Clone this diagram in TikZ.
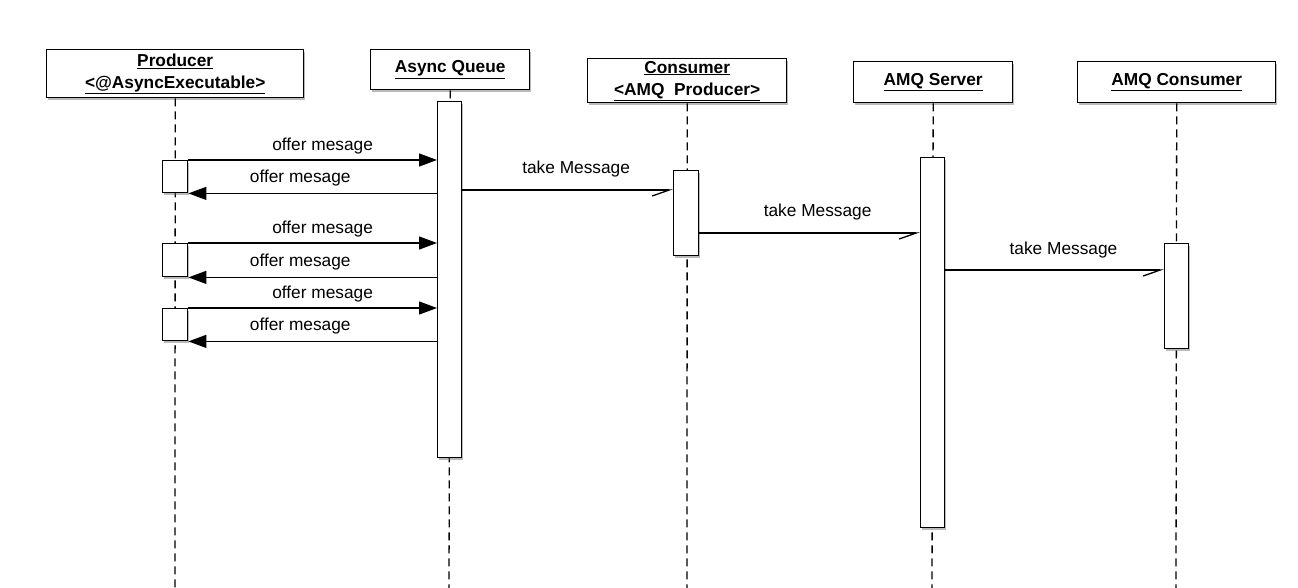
\documentclass[tikz,border=0pt]{standalone}
\usepackage{fontspec}
\setmainfont{Liberation Sans}
\usetikzlibrary{arrows.meta,shadows}
\begin{document}
\begin{tikzpicture}[x=1pt,y=-1pt,
  every node/.style={font=\fontsize{17.3}{22}\selectfont},
  shad/.style={drop shadow={shadow xshift=1.5pt,shadow yshift=-2pt,fill=black!60,opacity=0.45}},
  head/.style={draw,line width=1.4pt,fill=white,shad,anchor=north west,inner sep=0pt,align=center,font=\fontsize{17.3}{22}\selectfont\bfseries},
  act/.style={draw,line width=1.4pt,fill=white,shad,anchor=north west,inner sep=0pt},
  life/.style={line width=1.3pt,dash pattern=on 8pt off 5pt},
  sync/.style={line width=1.3pt,-{Triangle[length=18pt,width=13pt]}},
  async/.style={line width=1.3pt,-{Straight Barb[length=17pt,width=12pt,harpoon,swap]}},
  lbl/.style={inner sep=0pt,anchor=center}]
\useasboundingbox (0,0) rectangle (1298,588);
% lifeline bottoms
\coordinate (pe) at (175,588);
\coordinate (qe) at (449,588);
\coordinate (ce) at (687,588);
\coordinate (se) at (932,588);
\coordinate (ae) at (1176,588);
% headers
\node[head,minimum width=257pt,minimum height=48pt] (P) at (46,49) {\underline{Producer}\\\underline{<@AsyncExecutable>}};
\node[head,minimum width=159pt,minimum height=40pt] (Q) at (370,49) {\underline{Async Queue}};
\node[head,minimum width=199pt,minimum height=44pt] (C) at (587,58) {\underline{Consumer}\\\underline{<AMQ\ \ Producer>}};
\node[head,minimum width=159pt,minimum height=41pt] (S) at (853,61) {\underline{AMQ Server}};
\node[head,minimum width=198pt,minimum height=41pt] (A) at (1077,61) {\underline{AMQ Consumer}};
% lifelines
\begin{scope}[on background layer/.try]
\draw[life] (P.south) -- (pe);
\draw[life] (Q.south) -- (qe);
\draw[life] (C.south) -- (ce);
\draw[life] (S.south) -- (se);
\draw[life] (A.south) -- (ae);
\end{scope}
% activation bars
\node[act,minimum width=24pt,minimum height=356pt] (qa) at (437,101) {};
\node[act,minimum width=25pt,minimum height=85pt] (ca) at (673,170) {};
\node[act,minimum width=24pt,minimum height=370pt] (sa) at (920,157) {};
\node[act,minimum width=24pt,minimum height=105pt] (aa) at (1164,243) {};
\node[act,minimum width=25pt,minimum height=32pt] (p1) at (162,160) {};
\node[act,minimum width=25pt,minimum height=33pt] (p2) at (162,243) {};
\node[act,minimum width=25pt,minimum height=32pt] (p3) at (162,308) {};
% offer messages
\foreach \b in {p1,p2,p3}{
  \draw[sync] (\b.north east) -- (\b.north east -| qa.west)
     node[lbl,pos=0.54,yshift=14pt] {offer mesage};
  \draw[sync] (\b.south east -| qa.west) -- (\b.south east)
     node[lbl,pos=0.55,yshift=15pt] {offer mesage};
}
% take messages
\coordinate (t1) at (0,190);
\coordinate (t2) at (0,233);
\coordinate (t3) at (0,270);
\draw[async] (qa.east |- t1) -- (ca.west |- t1)
   node[lbl,pos=0.54,yshift=20.5pt] {take Message};
\draw[async] (ca.east |- t2) -- (sa.west |- t2)
   node[lbl,pos=0.536,yshift=21pt] {take Message};
\draw[async] (sa.east |- t3) -- (aa.west |- t3)
   node[lbl,pos=0.54,yshift=20pt] {take Message};
\end{tikzpicture}
\end{document}
